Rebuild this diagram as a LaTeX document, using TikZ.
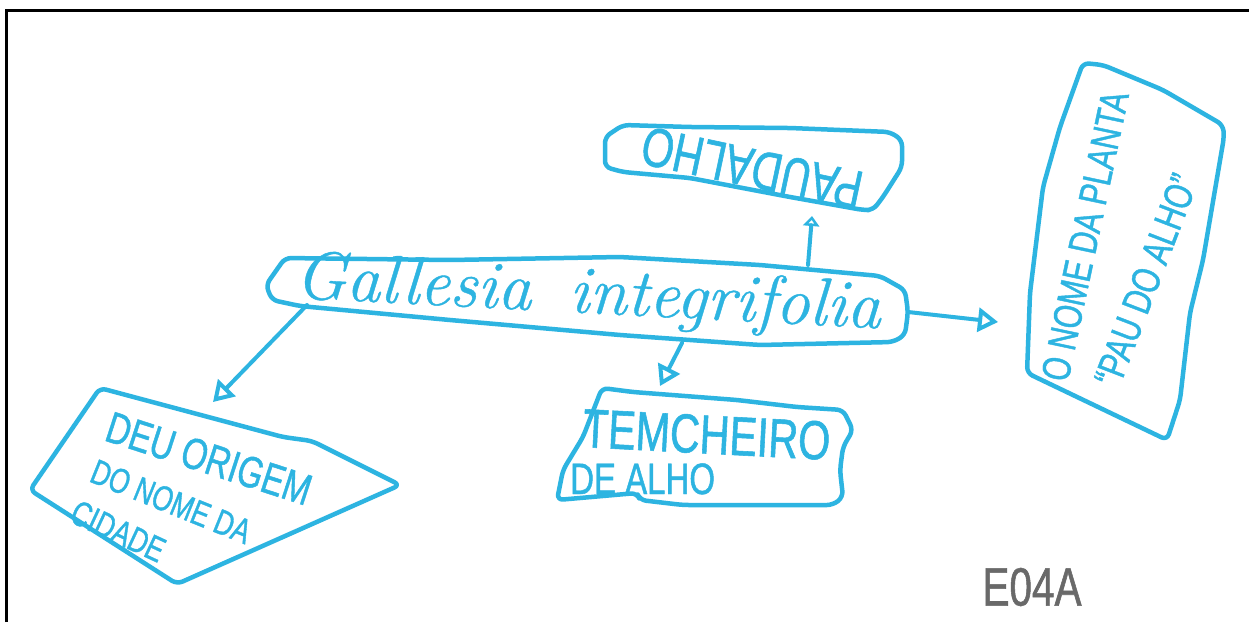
\documentclass[tikz,border=0pt]{standalone}
\usepackage{fontspec}
\setmainfont{Liberation Sans}
\newfontfamily\handfont[FakeStretch=0.75, FakeBold=1]{Liberation Sans}
\newfontfamily\cursivefont[FakeBold=0.6]{Latin Modern Roman}
\usetikzlibrary{arrows.meta}
\definecolor{ink}{RGB}{45,180,225}
\definecolor{pencil}{RGB}{105,105,105}

\begin{document}
\begin{tikzpicture}[x=1pt,y=-1pt,
  outline/.style={draw=ink, line width=4.5pt, line join=round, line cap=round, rounded corners=6pt},
  conn/.style={draw=ink, line width=4pt, line cap=round,
    -{Triangle[open,length=20pt,width=24pt,line width=4pt]}},
  smallconn/.style={draw=ink, line width=4pt, line cap=round,
    -{Triangle[open,length=10pt,width=16pt,line width=4pt]}},
  hand/.style={text=ink, inner sep=0pt, font=\handfont},
]
\useasboundingbox (0,0) rectangle (1249,622);
\fill[white] (0,0) rectangle (1249,622);

% sheet edge
\draw[line width=3pt] (6,622) -- (6,10) -- (1249,10);

% ---- central concept ----
\draw[outline] (285,258) -- (450,260) -- (620,257) -- (760,265) -- (880,276)
  -- (905,290) -- (908,312) -- (905,335) -- (893,342) -- (760,345) -- (620,335)
  -- (450,320) -- (300,306) -- (272,300) -- (266,285) -- cycle;
\node[text=ink, inner sep=0pt, rotate=-3, font=\cursivefont\itshape\fontsize{68}{70}\selectfont]
  (gal) at (588,296) {Gallesia\hspace{14pt} integrifolia};

% ---- PAU D'ALHO (written upside down) ----
\draw[outline] (605,137) -- (623,125) -- (690,127) -- (790,128) -- (890,132)
  -- (902,140) -- (902,167) -- (883,197) -- (873,210) -- (863,210) -- (790,197)
  -- (690,178) -- (623,172) -- (605,167) -- cycle;
\node[hand, rotate=168, font=\handfont\fontsize{55}{57}\selectfont] (pau) at (752,168) {PAUDALHO};

% ---- DEU ORIGEM ----
\draw[outline] (100,388) -- (283,437) -- (312,441) -- (400,485) -- (177,584)
  -- (30,490) -- cycle;
\node[hand, anchor=base west, rotate=-18, font=\handfont\fontsize{44}{46}\selectfont] (deu1) at (103,440) {DEU ORIGEM};
\node[hand, anchor=base west, rotate=-22, font=\handfont\fontsize{35}{37}\selectfont] (deu2) at (88,481) {DO NOME DA};
\node[hand, anchor=base west, rotate=-25, font=\handfont\fontsize{35}{37}\selectfont] (deu3) at (68,521) {CIDADE};

% ---- TEM CHEIRO ----
\draw[outline] (602,388) -- (633,392) -- (737,400) -- (797,407) -- (843,410)
  -- (853,430) -- (843,447) -- (840,470) -- (843,497) -- (833,505) -- (683,505)
  -- (640,500) -- (637,493) -- (557,500) -- (563,470) -- (583,437) -- cycle;
\node[hand, anchor=base west, rotate=-3, font=\handfont\fontsize{55}{57}\selectfont] (tem1) at (582,447) {TEMCHEIRO};
\node[hand, anchor=base west, font=\handfont\fontsize{44}{46}\selectfont] (tem2) at (570,494) {DE ALHO};

% ---- O NOME DA PLANTA ----
\draw[outline] (1083,63) -- (1103,65) -- (1163,90) -- (1223,125) -- (1224,137)
  -- (1203,260) -- (1190,313) -- (1180,400) -- (1167,440) -- (1027,373)
  -- (1030,293) -- (1043,187) -- (1060,127) -- cycle;
\node[hand, rotate=78, font=\handfont\fontsize{40}{42}\selectfont] (plant1) at (1085,236) {O NOME DA PLANTA};
\node[hand, rotate=69, font=\handfont\fontsize{40}{42}\selectfont] (plant2) at (1146,280) {“PAU DO ALHO”};

% ---- sample code ----
\node[text=pencil, inner sep=0pt, font=\handfont\fontsize{54}{56}\selectfont] (code) at (1032,587) {E04A};

% ---- connectors ----
\coordinate (galTop) at (808,265);
\coordinate (galLeft) at (307,305);
\coordinate (galBottom) at (682,343);
\coordinate (galRight) at (908,312);
\coordinate (pauIn) at (812,216);
\coordinate (deuIn) at (213,402);
\coordinate (temIn) at (660,386);
\coordinate (plantIn) at (998,322);
\draw[smallconn] (galTop) -- (pauIn);
\draw[conn] (galLeft) -- (deuIn);
\draw[conn] (galBottom) -- (temIn);
\draw[conn] (galRight) -- (plantIn);
\end{tikzpicture}
\end{document}
